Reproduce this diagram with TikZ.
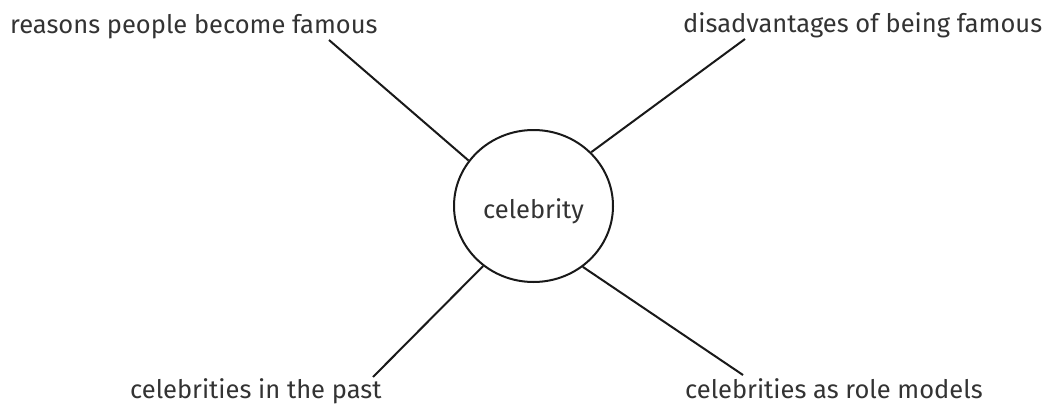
\documentclass[tikz,border=0pt]{standalone}
\usepackage{fontspec}
\setmainfont{Fira Sans}
\usetikzlibrary{shapes.geometric}
\definecolor{txt}{HTML}{333333}
\tikzset{
  lbl/.style={inner sep=0pt, text=txt, font=\fontsize{25.5}{30}\selectfont},
  conn/.style={line width=2pt, draw=black!90},
  hub/.style={ellipse, draw=black!90, line width=2pt, minimum width=159pt, minimum height=152pt, inner sep=0pt, text=txt, font=\fontsize{25.5}{30}\selectfont, text height=24pt, text depth=0pt}
}
\begin{document}
\begin{tikzpicture}[x=1pt,y=-1pt]
\useasboundingbox (0,0) rectangle (1050,404);
\fill[white] (0,0) rectangle (1050,404);
\node[hub] (c) at (533.5,206) {celebrity};
\node[lbl, anchor=base west] (tl) at (10,34) {reasons people become famous};
\node[lbl, anchor=base west] (tr) at (683,33) {disadvantages of being famous};
\node[lbl, anchor=base west] (bl) at (130,398) {celebrities in the past};
\node[lbl, anchor=base west] (br) at (685,398) {celebrities as role models};
\coordinate (p1) at (329,40);
\coordinate (p2) at (745,39);
\coordinate (p3) at (373,377);
\coordinate (p4) at (743,375);
\draw[conn] (c.145.5) -- (p1);
\draw[conn] (c.43.2) -- (p2);
\draw[conn] (c.230.4) -- (p3);
\draw[conn] (c.309) -- (p4);
\end{tikzpicture}
\end{document}
